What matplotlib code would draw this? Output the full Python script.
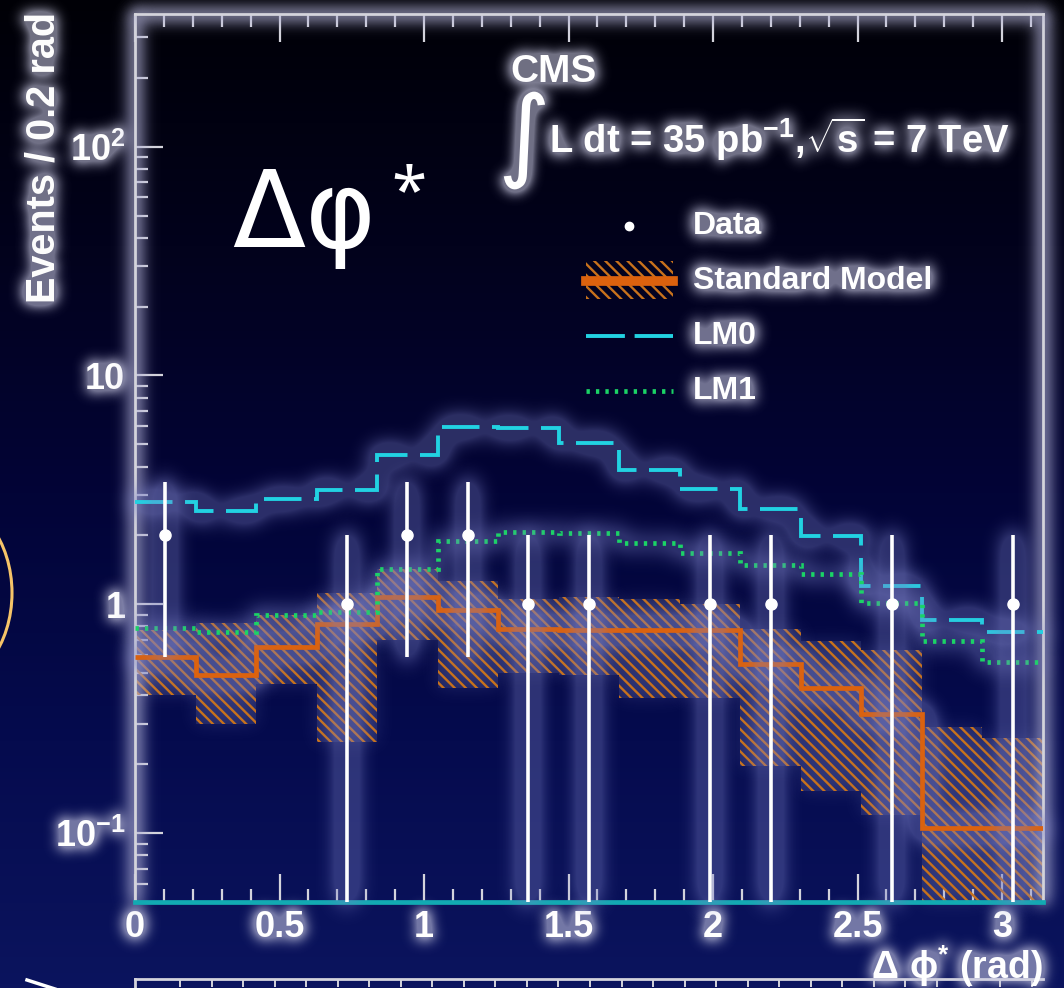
import numpy as np
import matplotlib
matplotlib.use("Agg")
import matplotlib.pyplot as plt
from matplotlib.colors import LinearSegmentedColormap
from matplotlib.patches import Rectangle, Ellipse
from matplotlib.lines import Line2D
from matplotlib.ticker import FixedLocator, LogLocator, MultipleLocator, NullFormatter

plt.rcParams["font.family"] = ["Liberation Sans", "DejaVu Sans"]
plt.rcParams["font.weight"] = "bold"
plt.rcParams["mathtext.fontset"] = "custom"
plt.rcParams["mathtext.rm"] = "Liberation Sans:bold"
plt.rcParams["mathtext.it"] = "Liberation Sans:bold:italic"
plt.rcParams["mathtext.bf"] = "Liberation Sans:bold"
plt.rcParams["lines.scale_dashes"] = False
plt.rcParams["hatch.linewidth"] = 1.7
plt.rcParams["hatch.color"] = "#c8721c"

# 15 bins over [0, pi]
N_BINS = 15
edges = np.linspace(0, np.pi, N_BINS + 1)
centers = 0.5 * (edges[:-1] + edges[1:])

data_counts = [2, 0, 0, 1, 2, 2, 1, 1, 0, 1, 1, 0, 1, 0, 1]
sm_central = [0.59, 0.49, 0.65, 0.82, 1.08, 0.94, 0.78, 0.77, 0.77, 0.77,
              0.55, 0.43, 0.33, 0.105, 0.105]
sm_upper = [0.77, 0.83, 0.90, 1.12, 1.42, 1.26, 1.06, 1.08, 1.05, 1.00,
            0.78, 0.69, 0.63, 0.29, 0.26]
sm_lower = [0.40, 0.30, 0.45, 0.25, 0.70, 0.43, 0.50, 0.49, 0.39, 0.39,
            0.196, 0.153, 0.12, 0.03, 0.03]
lm0 = [2.79, 2.57, 2.88, 3.15, 4.48, 5.93, 5.87, 5.09, 3.85, 3.18,
       2.60, 1.98, 1.20, 0.85, 0.76]
lm1 = [0.785, 0.76, 0.90, 0.93, 1.42, 1.90, 2.06, 2.04, 1.85, 1.67,
       1.49, 1.35, 1.01, 0.69, 0.56]

ytick_vals = [0.1, 1, 10, 100]
ytick_text = [r"$\mathregular{10^{-1}}$", "1", "10", r"$\mathregular{10^{2}}$"]
xtick_vals = [0, 0.5, 1, 1.5, 2, 2.5, 3]
xtick_text = ["0", "0.5", "1", "1.5", "2", "2.5", "3"]

ORANGE = "#dc620e"
HATCH = "#c8721c"
CYAN = "#22d2e2"
GREEN = "#1bd466"
FRAME = "#d4d4dc"

W, H = 1064, 988
fig = plt.figure(figsize=(W / 100, H / 100), dpi=100)


def fx(px):
    return px / W


def fy(py):
    return 1 - py / H


def _blur(a, sigma):
    r = int(3 * sigma)
    k = np.exp(-0.5 * (np.arange(-r, r + 1) / sigma) ** 2)
    k /= k.sum()
    a = np.apply_along_axis(lambda m: np.convolve(m, k, mode="same"), 0, a)
    return np.apply_along_axis(lambda m: np.convolve(m, k, mode="same"), 1, a)


class Glow:
    """agg filter: soft halo under the artist, artist kept on top."""

    def __init__(self, sigma=6, color=(0.85, 0.85, 0.95), strength=1.2,
                 cap=0.55):
        self.sigma = sigma
        self.color = np.array(color)
        self.strength = strength
        self.cap = cap

    def __call__(self, im, dpi):
        pad = int(3 * self.sigma)
        src = np.pad(im, ((pad, pad), (pad, pad), (0, 0)))
        a = src[..., 3]
        g = np.clip(_blur(a, self.sigma) * self.strength, 0, self.cap)
        ra = a + g * (1 - a)
        rgb = src[..., :3] * a[..., None] + self.color * (g * (1 - a))[..., None]
        rgb = rgb / np.maximum(ra, 1e-6)[..., None]
        out = np.concatenate([np.clip(rgb, 0, 1), ra[..., None]], axis=-1)
        return out, -pad, -pad


TEXT_GLOW = Glow(7, (0.80, 0.80, 0.90), 2.6)
LINE_HAZE = Glow(11, (0.48, 0.50, 0.78), 5.0, 0.35)

# dark navy gradient behind everything
bg = fig.add_axes([0, 0, 1, 1], zorder=-10)
bg.axis("off")
grad = LinearSegmentedColormap.from_list(
    "bg", [(0.0, "#000006"), (0.25, "#02021c"), (0.5, "#020437"),
           (0.75, "#050b4e"), (1.0, "#0b145e")])
bg.imshow(np.linspace(0, 1, 256).reshape(-1, 1), cmap=grad, aspect="auto",
          extent=[0, 1, 0, 1])
bg.set_xlim(0, 1)
bg.set_ylim(0, 1)

ax = fig.add_axes([fx(135), fy(902), fx(1043) - fx(135), fy(14) - fy(902)])
ax.set_facecolor("none")
ax.set_yscale("log")
ax.set_xlim(0, np.pi)
ax.set_ylim(0.05, 380)

widths = np.diff(edges)
band_h = np.array(sm_upper) - np.array(sm_lower)
# light haze + hatched uncertainty band
fills = ax.bar(centers, band_h, width=widths, bottom=sm_lower, color="#5a609a",
               alpha=0.25, linewidth=0, zorder=1)
hatched = ax.bar(centers, band_h, width=widths, bottom=sm_lower,
                 facecolor="none", edgecolor=HATCH, linewidth=0,
                 hatch="\\\\\\", zorder=2)
for p in hatched:
    p.set_agg_filter(Glow(9, (0.45, 0.48, 0.75), 0.8))

sm_line = ax.stairs(sm_central, edges, baseline=None, color=ORANGE,
                    linewidth=3.4, zorder=4)
lm0_line = ax.stairs(lm0, edges, baseline=None, color=CYAN, linewidth=2.8,
                     zorder=4)
lm0_line.set_linestyle((0, (27, 9)))
lm1_line = ax.stairs(lm1, edges, baseline=None, color=GREEN, linewidth=3.4,
                     zorder=4)
lm1_line.set_linestyle((0, (2.4, 4.4)))
for art in (sm_line, lm0_line, lm1_line):
    art.set_agg_filter(LINE_HAZE)

counts = np.array(data_counts, dtype=float)
nz = counts > 0
eb = ax.errorbar(centers[nz], counts[nz], yerr=np.sqrt(counts[nz]), fmt="o",
                 color="white", ms=8, elinewidth=2.6, capsize=0, zorder=6)
for line in eb.lines[2]:
    line.set_agg_filter(LINE_HAZE)

# frame and ticks
for side in ("left", "top", "right"):
    ax.spines[side].set_color(FRAME)
    ax.spines[side].set_linewidth(2.0)
    ax.spines[side].set_agg_filter(Glow(7, (0.7, 0.7, 0.85), 1.5))
ax.spines["bottom"].set_color("#12aab2")
ax.spines["bottom"].set_linewidth(3.4)

ax.yaxis.set_major_locator(FixedLocator(ytick_vals))
ax.set_yticklabels(ytick_text)
ax.yaxis.set_minor_locator(LogLocator(base=10, subs=np.arange(2, 10)))
ax.yaxis.set_minor_formatter(NullFormatter())
ax.xaxis.set_major_locator(FixedLocator(xtick_vals))
ax.set_xticklabels(xtick_text)
ax.xaxis.set_minor_locator(MultipleLocator(0.1))

ax.tick_params(which="both", direction="in", color=FRAME, width=1.6,
               top=True, right=False, labelcolor="white", labelsize=26)
ax.tick_params(which="major", length=20)
ax.tick_params(which="minor", length=9.5)
ax.tick_params(axis="y", pad=7)
ax.tick_params(axis="x", pad=6)
for lab in ax.get_xticklabels() + ax.get_yticklabels():
    lab.set_agg_filter(TEXT_GLOW)

fig.text(fx(44), fy(12), "Events / 0.2 rad", rotation=90, ha="center",
         va="top", color="white", fontsize=28.5, agg_filter=TEXT_GLOW)

# header text
fig.text(fx(510), fy(82), "CMS", color="white", fontsize=28,
         va="baseline", agg_filter=TEXT_GLOW)
fig.text(fx(497), fy(168), "\u222b", color="white", fontsize=73,
         family="DejaVu Sans", weight="normal", va="baseline",
         agg_filter=TEXT_GLOW)
fig.text(fx(549), fy(153),
         r"L dt = 35 pb$^{\mathregular{-1}}$,$\mathregular{\sqrt{s}}$ = 7 TeV",
         color="white", fontsize=27.5, va="baseline", agg_filter=TEXT_GLOW)

# legend
x0, x1, xt = 586, 673, 693
rows = {"Data": 226, "Standard Model": 281, "LM0": 336, "LM1": 391}
for label, yy in rows.items():
    fig.text(fx(xt), fy(yy), label, color="white", fontsize=23, va="center",
             agg_filter=TEXT_GLOW)
fig.add_artist(Line2D([fx(629)], [fy(rows["Data"])], marker="o", ms=6,
                      color="white", linestyle="none"))
fig.add_artist(Rectangle((fx(x0), fy(299)), fx(x1) - fx(x0), fy(261) - fy(299),
                         transform=fig.transFigure, facecolor="none",
                         edgecolor=HATCH, linewidth=0, hatch="\\\\\\"))
fig.add_artist(Line2D([fx(x0), fx(x1)], [fy(rows["Standard Model"])] * 2,
                      color=ORANGE, linewidth=7))
fig.add_artist(Line2D([fx(x0), fx(x1)], [fy(rows["LM0"])] * 2, color=CYAN,
                      linewidth=2.8, linestyle=(0, (28, 7))))
fig.add_artist(Line2D([fx(x0), fx(x1)], [fy(rows["LM1"])] * 2, color=GREEN,
                      linewidth=3.4, linestyle=(0, (2.4, 4.4))))

# large overlay symbol
fig.text(fx(232), fy(247), "\u0394\u03c6", color="white", fontsize=77,
         family="DejaVu Sans", weight="normal", va="baseline")
fig.text(fx(391), fy(212), "*", color="white", fontsize=46,
         family="Noto Sans", weight="normal", va="baseline")

# x-axis title, partly covered by the panel below
fig.text(fx(1043), fy(979), r"$\mathregular{\Delta\ \phi^{*}}$ (rad)",
         color="white", fontsize=27, ha="right", va="baseline",
         agg_filter=TEXT_GLOW)

# top edge of the lower panel
low = fig.add_axes([fx(135), 0, fx(1043) - fx(135), fy(979)])
low.set_facecolor("none")
for side in ("left", "bottom", "right"):
    low.spines[side].set_visible(side == "left")
low.spines["left"].set_color(FRAME)
low.spines["top"].set_color(FRAME)
low.spines["left"].set_linewidth(2.0)
low.spines["top"].set_linewidth(2.0)
low.set_xlim(135, 1043)
low.set_yticks([])
low.xaxis.set_ticks_position("top")
low.set_xticks(180 + 31.54 * np.arange(28))
low.tick_params(axis="x", direction="in", length=6, width=1.4, color=FRAME,
                labeltop=False, labelbottom=False)

# stray annotation marks at the left edge
fig.add_artist(Ellipse((fx(-60), fy(593)), 2 * 72 / W, 2 * 95 / H,
                       transform=fig.transFigure, facecolor="none",
                       edgecolor="#f6c468", linewidth=2.2))
fig.add_artist(Line2D([fx(27), fx(55)], [fy(980), fy(989)], color="white",
                      linewidth=2.5))

fig.savefig("out.png", dpi=100)
